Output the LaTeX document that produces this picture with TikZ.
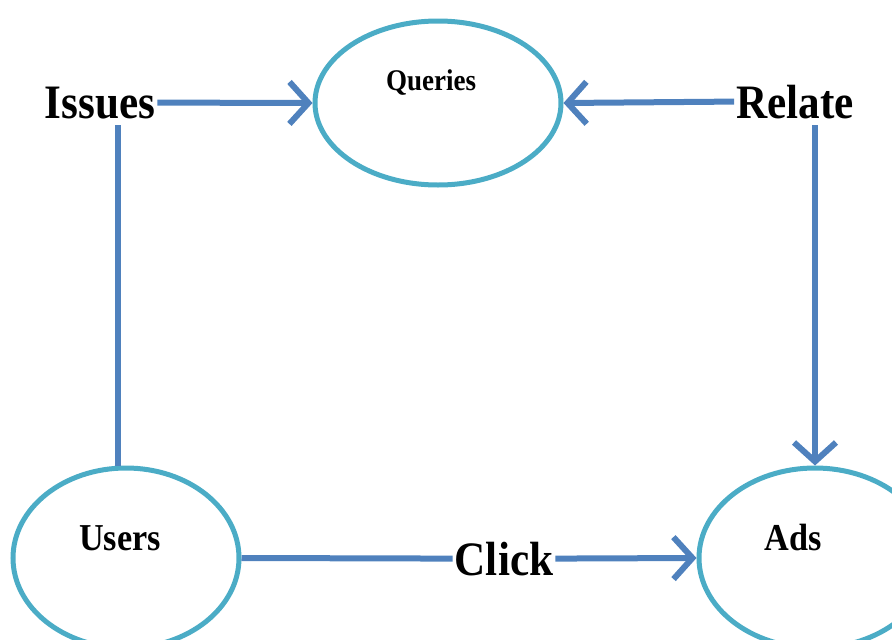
\documentclass[tikz,border=0pt]{standalone}
\usepackage{fontspec}
\setmainfont{Liberation Serif}[FakeStretch=0.9]
\usetikzlibrary{shapes.geometric,arrows.meta}
\definecolor{ringc}{HTML}{4BACC6}
\definecolor{arrc}{HTML}{4F81BD}
\tikzset{
  x=1pt,y=-1pt,
  ring/.style={ellipse,draw=ringc,line width=5pt,inner sep=0pt},
  conn/.style={draw=arrc,line width=6pt},
  arr/.style={conn,-{Straight Barb[length=19pt,width=42pt,line width=6pt]}},
  big/.style={font=\fontsize{48}{50}\selectfont\bfseries,inner sep=2pt,anchor=base},
  small/.style={font=\fontsize{32}{34}\selectfont\bfseries,inner sep=0pt,anchor=base},
}
\begin{document}
\begin{tikzpicture}
\useasboundingbox (0,0) rectangle (892,640);
\clip (0,0) rectangle (892,640);
\node[ring,minimum width=246pt,minimum height=164pt] (queries) at (438,103) {};
\node[ring,minimum width=226pt,minimum height=180pt] (users) at (126,558) {};
\node[ring,minimum width=232pt,minimum height=180pt] (ads) at (815,558) {};
\node[small,font=\fontsize{30}{32}\selectfont\bfseries] (qt) at (431,90) {Queries};
\node[small,font=\fontsize{38}{40}\selectfont\bfseries] (ut) at (120,550) {Users};
\node[small,font=\fontsize{38}{40}\selectfont\bfseries] (at) at (793,550) {Ads};
\node[big] (issues) at (100,118) {Issues};
\node[big] (relate) at (795,118) {Relate};
\node[big] (click) at (504,575) {Click};
\draw[arr] (issues.east) -- (queries.west);
\draw[arr] (relate.west) -- (queries.east);
\coordinate (iv) at (118,125);
\draw[conn] (iv) -- (iv |- users.north);
\coordinate (rv) at (815,125);
\draw[arr] (rv) -- (rv |- ads.north);
\draw[conn] (users.east) -- (click.west);
\draw[arr] (click.east) -- (ads.west);
\end{tikzpicture}
\end{document}
